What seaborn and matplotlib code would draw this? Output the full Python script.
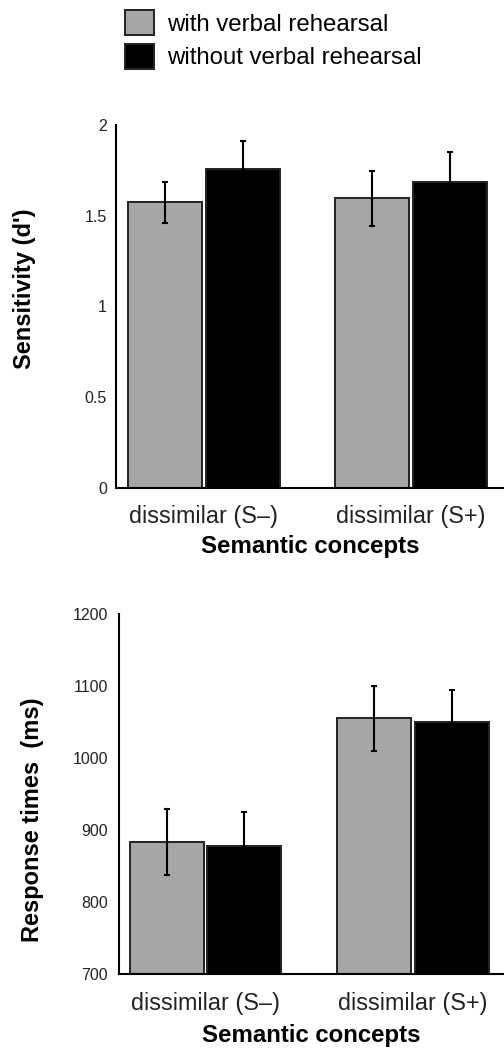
import pandas as pd
import numpy as np
import matplotlib
matplotlib.use("Agg")
import matplotlib.pyplot as plt
import seaborn as sns

# values
concepts = ["dissimilar (S\u2013)", "dissimilar (S+)"]
conditions = ["with verbal rehearsal", "without verbal rehearsal"]

sens_with = [1.574, 1.596]
sens_without = [1.756, 1.688]
sens_err_with = [0.113, 0.150]
sens_err_without = [0.156, 0.165]

rt_with = [883, 1055]
rt_without = [878, 1050]
rt_err_with = [46, 45]
rt_err_without = [47.5, 45]

sens_ticks = [0, 0.5, 1, 1.5, 2]
sens_ticklabels = ["0", "0.5", "1", "1.5", "2"]
rt_ticks = [700, 800, 900, 1000, 1100, 1200]

sns.set_style("white")
plt.rcParams['font.family'] = ['Liberation Sans', 'DejaVu Sans']

palette = {"with verbal rehearsal": "#a6a6a6", "without verbal rehearsal": "#000000"}


def make_df(v_with, v_without, e_with, e_without):
    return pd.DataFrame({
        "concept": concepts * 2,
        "condition": [conditions[0]] * 2 + [conditions[1]] * 2,
        "value": list(v_with) + list(v_without),
        "err": list(e_with) + list(e_without),
    })


sens_df = make_df(sens_with, sens_without, sens_err_with, sens_err_without)
rt_df = make_df(rt_with, rt_without, rt_err_with, rt_err_without)

fig = plt.figure(figsize=(5.04, 10.5), dpi=100)
ax1 = fig.add_axes([116 / 504, 1 - 488 / 1050, 388 / 504, 363 / 1050])
ax2 = fig.add_axes([119 / 504, 1 - 974 / 1050, 385 / 504, 360 / 1050])


def draw_panel(ax, df, ylim, ticks, ticklabels, ylabel, xpad, ypad, labelpad, ylab_xy, xlim):
    sns.barplot(data=df, x="concept", y="value", hue="condition", order=concepts,
                hue_order=conditions, palette=palette, width=0.75, gap=0.05,
                errorbar=None, edgecolor="#222222", linewidth=1.4, ax=ax,
                legend=(ax is ax1))
    # error bars on top of each bar, one container per condition
    for cont, cond in zip(ax.containers, conditions):
        sub = df[df["condition"] == cond].set_index("concept").loc[concepts]
        xs = [b.get_x() + b.get_width() / 2 for b in cont]
        ax.errorbar(xs, sub["value"], yerr=sub["err"], fmt="none", ecolor="black",
                    elinewidth=1.5, capsize=2.5, capthick=1.5, zorder=5)
    ax.set_ylim(*ylim)
    ax.set_xlim(*xlim)
    ax.set_yticks(ticks)
    ax.set_yticklabels(ticklabels)
    ax.tick_params(axis="both", length=0, colors="#222222")
    ax.tick_params(axis="y", labelsize=11.5, pad=ypad)
    ax.tick_params(axis="x", labelsize=16.8, pad=xpad)
    for s in ["top", "right"]:
        ax.spines[s].set_visible(False)
    for s in ["left", "bottom"]:
        ax.spines[s].set_color("black")
        ax.spines[s].set_linewidth(1.5)
    ax.set_xlabel("Semantic concepts", fontsize=17.3, fontweight="bold",
                  labelpad=labelpad, color="black")
    ax.set_ylabel(ylabel, fontsize=17, fontweight="bold", color="black")
    ax.yaxis.label.set_verticalalignment("center")
    ax.yaxis.set_label_coords(*ylab_xy)


draw_panel(ax1, sens_df, (0, 2), sens_ticks, sens_ticklabels, "Sensitivity (d')",
           xpad=12, ypad=6.5, labelpad=5.5, ylab_xy=(-0.236, 0.548), xlim=(-0.425, 1.449))
draw_panel(ax2, rt_df, (700, 1200), rt_ticks, [str(t) for t in rt_ticks], "Response times  (ms)",
           xpad=13, ypad=8, labelpad=6.5, ylab_xy=(-0.225, 0.428), xlim=(-0.417, 1.439))

handles, labels = ax1.get_legend_handles_labels()
ax1.legend_.remove()
fig.legend(handles, labels, loc="upper left", bbox_to_anchor=(125 / 504, 1 - 10 / 1050),
           frameon=False, fontsize=17.3, handlelength=1.2, handleheight=1.25,
           labelspacing=0.33, handletextpad=0.54, borderpad=0, borderaxespad=0,
           labelcolor="black")

fig.savefig("out.png", dpi=100)
